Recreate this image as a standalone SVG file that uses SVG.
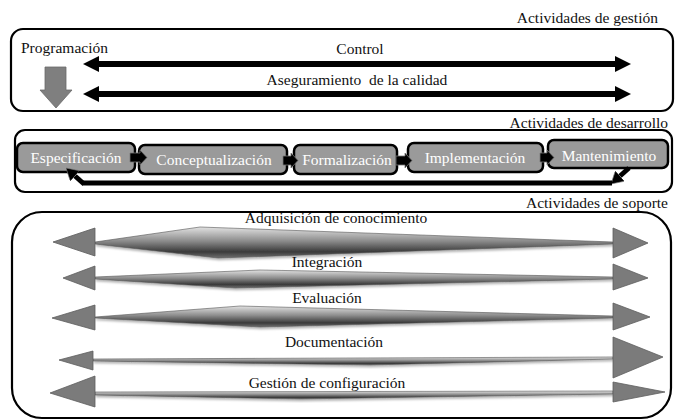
<svg xmlns="http://www.w3.org/2000/svg" width="678" height="420" viewBox="0 0 678 420" font-family="'Liberation Serif', 'DejaVu Serif', serif">
<style>
text{font-family:'Liberation Serif','DejaVu Serif',serif;font-size:15.5px;fill:#111}
.frame{fill:#fff;stroke:#000;stroke-width:2.2}
.proc{fill:#9a9a9a;stroke:#000;stroke-width:2.5}
.ptxt{fill:#fff;text-anchor:middle;font-size:15.5px}
.mid{text-anchor:middle}
.end{text-anchor:end}
.head{fill:#7b7b7b;stroke:#5e5e5e;stroke-width:0.8}
.shaft{fill:url(#sg);stroke:#555;stroke-width:0.6;filter:url(#sh)}
.blk{fill:#000;stroke:#777;stroke-width:0.8}
.ctl{stroke:#000;stroke-width:6;fill:none}
.ret{stroke:#000;stroke-width:5;fill:none}
</style>
<defs>
<linearGradient id="sg" x1="0" y1="0" x2="0" y2="1">
<stop offset="0" stop-color="#e2e2e2"/>
<stop offset="0.45" stop-color="#8c8c8c"/>
<stop offset="0.8" stop-color="#3a3a3a"/>
<stop offset="1" stop-color="#707070"/>
</linearGradient>
<filter id="sh" x="-5%" y="-50%" width="110%" height="200%">
<feDropShadow dx="1" dy="2" stdDeviation="1.2" flood-color="#000" flood-opacity="0.3"/>
</filter>
<marker id="bh" viewBox="0 -8 16 16" refX="0" refY="0" markerWidth="16" markerHeight="16" markerUnits="userSpaceOnUse" orient="auto-start-reverse">
<path d="M0,-8 L16,0 L0,8 Z" fill="#000"/>
</marker>
<marker id="rh" viewBox="0 -7 12 14" refX="0" refY="0" markerWidth="12" markerHeight="14" markerUnits="userSpaceOnUse" orient="auto">
<path d="M0,-7 L12,0 L0,7 Z" fill="#000" stroke="#777" stroke-width="0.6"/>
</marker>
</defs>

<!-- Management activities -->
<g id="gestion">
<text x="658" y="23" class="end">Actividades de gestión</text>
<rect class="frame" x="11" y="29" width="662" height="82" rx="12"/>
</g>
<g id="programacion">
<text x="21" y="53" font-size="16">Programación</text>
<polygon points="45,67 66,67 66,90 72,90 56,108 40,90 45,90" fill="#7f7f7f" stroke="#6a6a6a" stroke-width="0.8"/>
</g>
<g id="control">
<text x="360" y="54" class="mid">Control</text>
</g>
<g id="calidad">
<text x="357" y="85" class="mid" xml:space="preserve">Aseguramiento  de la calidad</text>
</g>

<!-- Development activities -->
<g id="desarrollo">
<text x="668" y="128" class="end">Actividades de desarrollo</text>
<rect class="frame" x="15" y="130" width="657" height="62" rx="10"/>
</g>
<g id="especificacion">
<rect class="proc" x="17" y="143" width="118" height="29" rx="6"/>
<text x="76" y="163" class="ptxt">Especificación</text>
</g>
<g id="conceptualizacion">
<rect class="proc" x="139" y="145" width="148" height="29" rx="6"/>
<text x="214" y="165" class="ptxt">Conceptualización</text>
</g>
<g id="formalizacion">
<rect class="proc" x="294" y="145" width="103" height="29" rx="6"/>
<text x="347" y="165" class="ptxt">Formalización</text>
</g>
<g id="implementacion">
<rect class="proc" x="408" y="143" width="135" height="29" rx="6"/>
<text x="475" y="163" class="ptxt">Implementación</text>
</g>
<g id="mantenimiento">
<rect class="proc" x="548" y="140" width="120" height="28" rx="6"/>
<text x="609" y="161" class="ptxt">Mantenimiento</text>
</g>

<!-- Support activities -->
<g id="soporte">
<text x="668" y="208" class="end">Actividades de soporte</text>
<rect class="frame" x="12" y="212" width="659" height="206" rx="30"/>
</g>
<g id="adquisicion">
<text x="336" y="223" class="mid">Adquisición de conocimiento</text>
<path class="shaft" d="M95,242 L200,227 L613,242 L613,244 L218,258 L95,244 Z"/>
<polygon class="head" points="95,228 95,256 53,242"/>
<polygon class="head" points="613,228 613,258 648,243"/>
</g>
<g id="integracion">
<text x="327" y="267" class="mid">Integración</text>
<path class="shaft" d="M95,277 L260,270 L613,277 L613,279 L235,288 L95,279 Z"/>
<polygon class="head" points="95,266 95,290 63,278"/>
<polygon class="head" points="613,264 613,290 648,278"/>
</g>
<g id="evaluacion">
<text x="327" y="303" class="mid">Evaluación</text>
<path class="shaft" d="M95,317 L240,306 L613,316 L613,318 L260,327 L95,318 Z"/>
<polygon class="head" points="95,305 95,330 52,318"/>
<polygon class="head" points="613,303 613,330 650,317"/>
</g>
<g id="documentacion">
<text x="334" y="347" class="mid">Documentación</text>
<path class="shaft" d="M93,359 L613,357 L613,359 L370,365 L93,361 Z"/>
<polygon class="head" points="93,351 93,370 59,360"/>
<polygon class="head" points="613,337 613,378 663,357"/>
</g>
<g id="configuracion">
<text x="327" y="388" class="mid">Gestión de configuración</text>
<path class="shaft" d="M95,392 L613,391 L613,394 L300,399 L95,395 Z"/>
<polygon class="head" points="95,376 95,407 50,393"/>
<polygon class="head" points="613,382 613,402 665,392"/>
</g>

<!-- Connectors -->
<g id="connectors">
<line class="ctl" x1="99" y1="64" x2="615" y2="64" marker-start="url(#bh)" marker-end="url(#bh)"/>
<line class="ctl" x1="99" y1="94" x2="615" y2="94" marker-start="url(#bh)" marker-end="url(#bh)"/>
<polygon class="blk" points="130,153 140,153 140,150 147,157.5 140,165 140,162 130,162"/>
<polygon class="blk" points="283,156 291,156 291,153 298,160.5 291,168 291,165 283,165"/>
<polygon class="blk" points="396,156 405,156 405,153 412,160.5 405,168 405,165 396,165"/>
<polygon class="blk" points="540,153 547,153 547,150 554,157.5 547,165 547,162 540,162"/>
<line class="ret" x1="629" y1="168" x2="620" y2="176" marker-end="url(#rh)"/>
<line class="ret" x1="612" y1="183" x2="82" y2="183"/>
<line class="ret" x1="84" y1="184" x2="75" y2="176" marker-end="url(#rh)"/>
</g>
</svg>
